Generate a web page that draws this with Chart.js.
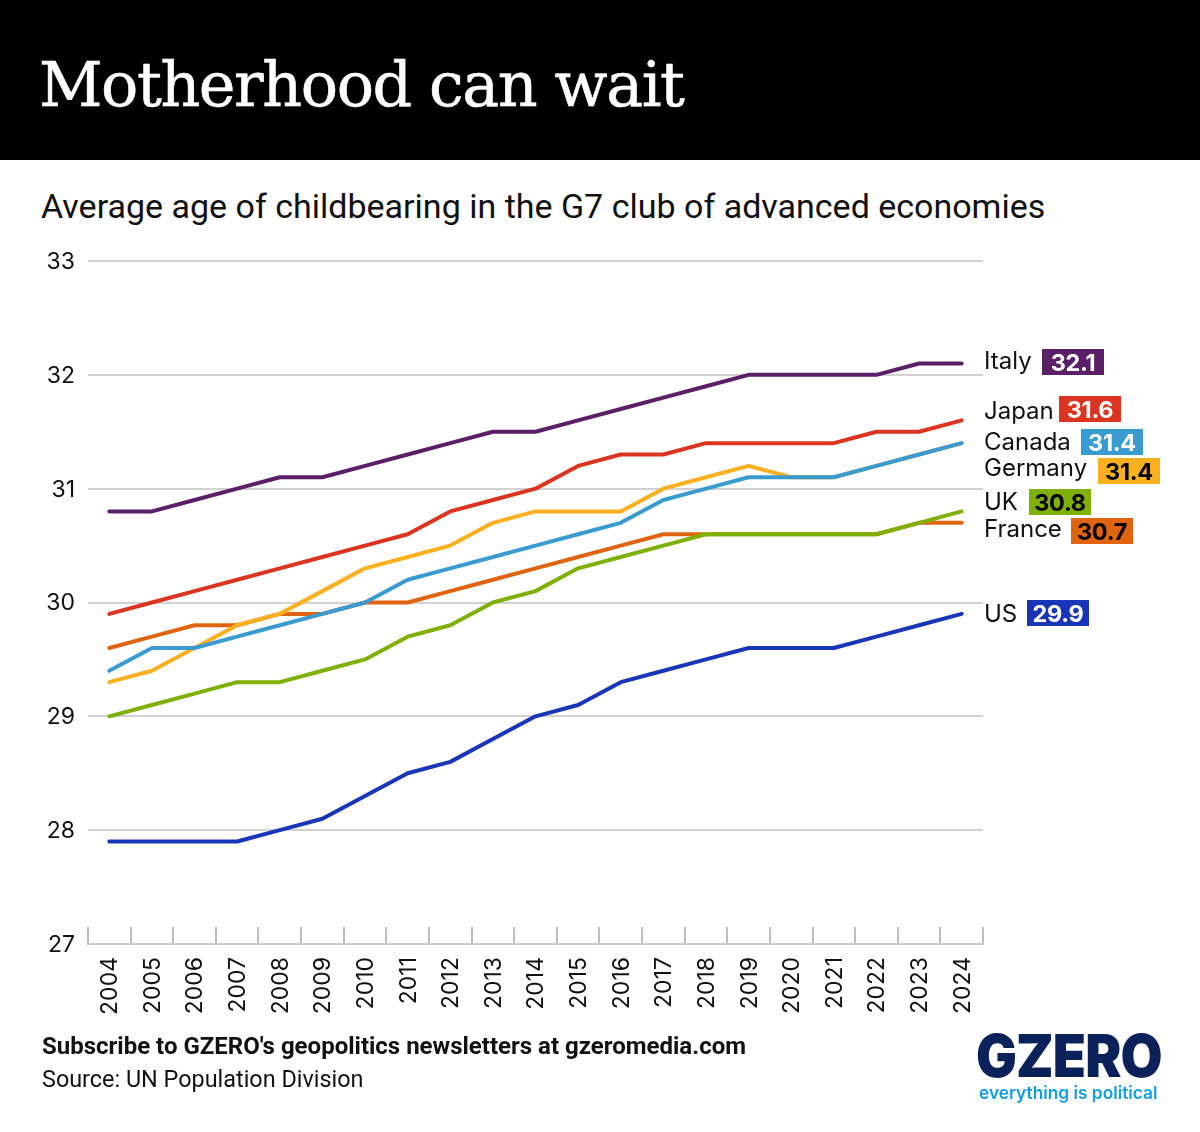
<!DOCTYPE html>
<html>
<head>
<meta charset="utf-8">
<title>Motherhood can wait</title>
<script src="https://cdn.jsdelivr.net/npm/chart.js@4/dist/chart.umd.min.js"></script>
<style>
    html, body { margin: 0; padding: 0; background: #fff; }
    #page { position: relative; width: 1200px; height: 1132px; overflow: hidden; }
    #header { position: absolute; left: 0; top: 0; width: 1200px; height: 160px; background: #000; }
    #title { position: absolute; left: 39px; top: 45px; color: #fff; font: 400 62px "DejaVu Serif"; letter-spacing: -1.45px; -webkit-text-stroke: 0.6px #fff; white-space: nowrap; line-height: 80px; }
    #subtitle { position: absolute; left: 41px; top: 185px; font: 400 34px Roboto; color: #111; white-space: nowrap; line-height: 42px; }
    #chart { position: absolute; left: 0; top: 0; }
    #subscribe { position: absolute; left: 42px; top: 1031px; font: 700 24px Roboto; color: #111; white-space: nowrap; line-height: 30px; }
    #source { position: absolute; left: 42px; top: 1064px; font: 400 23.4px Roboto; color: #111; white-space: nowrap; line-height: 30px; }
    #logo { position: absolute; left: 976px; top: 1021px; font: 900 59px Inter; color: #0a2259; white-space: nowrap; line-height: 70px; letter-spacing: -1px; transform: scaleX(0.92); transform-origin: left center; }
    #tagline { position: absolute; left: 979px; top: 1081px; font: 600 17.3px Inter; color: #0f9fe0; white-space: nowrap; line-height: 24px; }
    .name { position: absolute; left: 984px; font: 400 24px Inter; color: #111; line-height: 30px; white-space: nowrap; }
    .badge { position: absolute; width: 62px; height: 26px; text-align: center; font: 700 23.5px/27px Inter; letter-spacing: -0.3px; }
</style>
</head>
<body>
<div id="page">
    <div id="header"><div id="title">Motherhood can wait</div></div>
    <div id="subtitle">Average age of childbearing in the G7 club of advanced economies</div>
    <canvas id="chart" width="1200" height="1132"></canvas>
    <div id="subscribe">Subscribe to GZERO's geopolitics newsletters at gzeromedia.com</div>
    <div id="source">Source: UN Population Division</div>
    <div id="logo">GZERO</div>
    <div id="tagline">everything is political</div>
</div>
<script>
const years = ['2004','2005','2006','2007','2008','2009','2010','2011','2012','2013','2014','2015','2016','2017','2018','2019','2020','2021','2022','2023','2024'];
const yTicks = [27, 28, 29, 30, 31, 32, 33];

const italy = [30.8,30.8,30.9,31.0,31.1,31.1,31.2,31.3,31.4,31.5,31.5,31.6,31.7,31.8,31.9,32.0,32.0,32.0,32.0,32.1,32.1];
const japan = [29.9,30.0,30.1,30.2,30.3,30.4,30.5,30.6,30.8,30.9,31.0,31.2,31.3,31.3,31.4,31.4,31.4,31.4,31.5,31.5,31.6];
const canada = [29.4,29.6,29.6,29.7,29.8,29.9,30.0,30.2,30.3,30.4,30.5,30.6,30.7,30.9,31.0,31.1,31.1,31.1,31.2,31.3,31.4];
const germany = [29.3,29.4,29.6,29.8,29.9,30.1,30.3,30.4,30.5,30.7,30.8,30.8,30.8,31.0,31.1,31.2,31.1,31.1,31.2,31.3,31.4];
const uk = [29.0,29.1,29.2,29.3,29.3,29.4,29.5,29.7,29.8,30.0,30.1,30.3,30.4,30.5,30.6,30.6,30.6,30.6,30.6,30.7,30.8];
const france = [29.6,29.7,29.8,29.8,29.9,29.9,30.0,30.0,30.1,30.2,30.3,30.4,30.5,30.6,30.6,30.6,30.6,30.6,30.6,30.7,30.7];
const us = [27.9,27.9,27.9,27.9,28.0,28.1,28.3,28.5,28.6,28.8,29.0,29.1,29.3,29.4,29.5,29.6,29.6,29.6,29.7,29.8,29.9];

// first dataset ends up on top in chart.js
const series = [
    { name: 'US', values: us, color: '#1a36b8', ink: '#fff' },
    { name: 'Japan', values: japan, color: '#db3420', ink: '#fff' },
    { name: 'Canada', values: canada, color: '#3a9bd1', ink: '#fff' },
    { name: 'Germany', values: germany, color: '#fbb01f', ink: '#000' },
    { name: 'UK', values: uk, color: '#7fb005', ink: '#000' },
    { name: 'France', values: france, color: '#e0640f', ink: '#000' },
    { name: 'Italy', values: italy, color: '#5a1f66', ink: '#fff' },
];

// end labels don't sit exactly on the line ends, they are nudged apart
const labelSpots = {
    Italy: { nameTop: 346, badgeLeft: 1042, badgeTop: 349 },
    Japan: { nameTop: 396, badgeLeft: 1059, badgeTop: 396 },
    Canada: { nameTop: 427, badgeLeft: 1081, badgeTop: 429 },
    Germany: { nameTop: 453, badgeLeft: 1098, badgeTop: 458 },
    UK: { nameTop: 487, badgeLeft: 1029, badgeTop: 489 },
    France: { nameTop: 514, badgeLeft: 1071, badgeTop: 518 },
    US: { nameTop: 599, badgeLeft: 1027, badgeTop: 600 },
};

const page = document.querySelector('#page');
series.forEach(s => {
    const spot = labelSpots[s.name];
    const name = document.createElement('div');
    name.className = 'name';
    name.style.top = spot.nameTop + 'px';
    name.textContent = s.name;
    page.appendChild(name);

    const badge = document.createElement('div');
    badge.className = 'badge';
    badge.style.left = spot.badgeLeft + 'px';
    badge.style.top = spot.badgeTop + 'px';
    badge.style.background = s.color;
    badge.style.color = s.ink;
    badge.textContent = s.values[s.values.length - 1].toFixed(1);
    page.appendChild(badge);
});

const axisFont = { family: 'Inter', size: 23 };

new Chart(document.querySelector('#chart').getContext('2d'), {
    type: 'line',
    data: {
        labels: years,
        datasets: series.map(s => ({
            label: s.name,
            data: s.values,
            borderColor: s.color,
            backgroundColor: s.color,
            borderWidth: 4,
            borderCapStyle: 'round',
            borderJoinStyle: 'round',
            pointRadius: 0,
            tension: 0,
        })),
    },
    options: {
        responsive: false,
        animation: false,
        layout: { padding: { top: 261, right: 217, left: 0, bottom: 0 } },
        plugins: { legend: { display: false }, tooltip: { enabled: false } },
        scales: {
            x: {
                offset: true,
                afterFit: axis => { axis.height = 188; },
                border: { color: '#cfcfcf', width: 2 },
                grid: { offset: true, drawOnChartArea: false, color: '#bdbdbd', lineWidth: 2, tickLength: -17 },
                ticks: { color: '#111', font: axisFont, minRotation: 90, maxRotation: 90, padding: 30, labelOffset: 1, autoSkip: false },
            },
            y: {
                min: 27,
                max: 33,
                afterFit: axis => { axis.width = 88; },
                afterBuildTicks: axis => { axis.ticks = yTicks.map(value => ({ value })); },
                border: { display: false },
                grid: { color: '#d2d2d2', lineWidth: 2, drawTicks: false },
                ticks: { color: '#111', font: axisFont, padding: 13, labelOffset: 1 },
            },
        },
    },
});
</script>
</body>
</html>
